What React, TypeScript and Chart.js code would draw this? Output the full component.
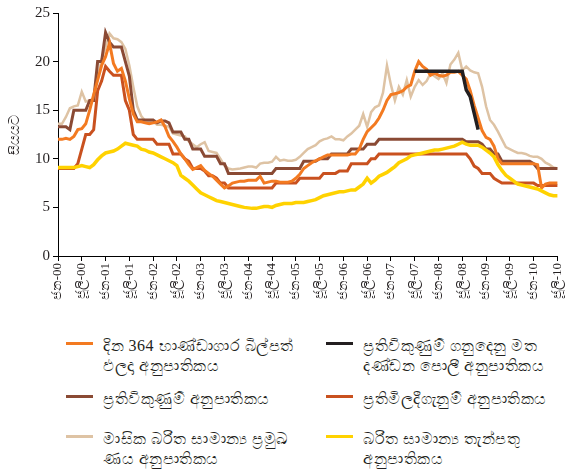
import React, { useEffect, useRef } from "react";
import { Chart, registerables } from "chart.js";

Chart.register(...registerables);

// ---------- data (monthly, Jan-2000 .. Jul-2010) ----------
const YEARS = ["00", "01", "02", "03", "04", "05", "06", "07", "08", "09", "10"];
const MONTHS = ["ජන", "පෙබ", "මාර්", "අප්‍රේ", "මැයි", "ජූනි", "ජූලි", "අගෝ", "සැප්", "ඔක්", "නොවැ", "දෙසැ"];
const MONTH_COUNT = 127;
const LABELS: string[] = YEARS.flatMap((y) => MONTHS.map((m) => `${m}-${y}`)).slice(0, MONTH_COUNT);

const Y_TICKS = [0, 5, 10, 15, 20, 25];

// 364-day T-bill yield
const TBILL = [
  12.0, 12.0, 12.1, 12.0, 12.3, 13.0, 13.1, 13.6, 15.0, 16.6, 18.1, 19.6,
  20.5, 21.9, 19.8, 19.0, 19.3, 18.0, 16.2, 14.6, 13.8, 13.8, 13.7, 13.6,
  13.7, 13.8, 14.0, 13.3, 12.3, 11.8, 11.2, 10.5, 10.0, 9.4, 8.9, 9.1,
  9.3, 8.8, 8.5, 8.2, 7.8, 7.4, 7.0, 7.2, 7.5, 7.6, 7.7, 7.7,
  7.8, 7.8, 7.8, 8.2, 7.5, 7.6, 7.7, 7.7, 7.6, 7.6, 7.6, 7.7,
  8.0, 8.4, 9.0, 9.3, 9.6, 9.8, 10.0, 10.2, 10.4, 10.4, 10.4, 10.4,
  10.4, 10.4, 10.5, 10.5, 11.0, 12.0, 12.8, 13.2, 13.6, 14.2, 15.0, 16.0,
  16.6, 16.7, 16.8, 17.0, 17.4, 17.6, 19.0, 20.0, 19.5, 19.2, 18.6, 18.8,
  18.6, 18.5, 18.6, 18.9, 18.9, 19.0, 18.6, 18.2, 17.0, 15.5, 14.2, 12.9,
  12.2, 12.0, 11.3, 10.0, 9.5, 9.5, 9.5, 9.5, 9.5, 9.5, 9.5, 9.5,
  9.5, 9.4, 7.0, 7.4, 7.5, 7.5, 7.5,
];

// Penal rate on reverse repo transactions
const PENAL = [
  null, null, null, null, null, null, null, null, null, null, null, null,
  null, null, null, null, null, null, null, null, null, null, null, null,
  null, null, null, null, null, null, null, null, null, null, null, null,
  null, null, null, null, null, null, null, null, null, null, null, null,
  null, null, null, null, null, null, null, null, null, null, null, null,
  null, null, null, null, null, null, null, null, null, null, null, null,
  null, null, null, null, null, null, null, null, null, null, null, null,
  null, null, null, null, null, null, 19.0, 19.0, 19.0, 19.0, 19.0, 19.0,
  19.0, 19.0, 19.0, 19.0, 19.0, 19.0, 19.0, 17.1, 16.4, 14.7, 13.0, null,
  null, null, null, null, null, null, null, null, null, null, null, null,
  null, null, null, null, null, null, null,
];

// Reverse repo rate
const REVERSE_REPO = [
  13.3, 13.3, 13.3, 13.0, 15.0, 15.0, 15.0, 15.0, 16.0, 16.0, 20.0, 20.0,
  23.0, 22.0, 21.5, 21.5, 21.5, 20.0, 18.5, 15.0, 14.0, 14.0, 14.0, 14.0,
  14.0, 13.7, 13.9, 13.9, 13.7, 12.75, 12.75, 12.75, 12.0, 12.0, 11.0, 11.0,
  11.0, 10.25, 10.25, 10.25, 10.25, 9.5, 9.5, 8.5, 8.5, 8.5, 8.5, 8.5,
  8.5, 8.5, 8.5, 8.5, 8.5, 8.5, 8.5, 9.0, 9.0, 9.0, 9.0, 9.0,
  9.0, 9.0, 9.75, 9.75, 9.75, 9.75, 10.0, 10.0, 10.0, 10.5, 10.5, 10.5,
  10.5, 10.5, 11.0, 11.0, 11.0, 11.0, 11.5, 11.5, 11.5, 12.0, 12.0, 12.0,
  12.0, 12.0, 12.0, 12.0, 12.0, 12.0, 12.0, 12.0, 12.0, 12.0, 12.0, 12.0,
  12.0, 12.0, 12.0, 12.0, 12.0, 12.0, 12.0, 11.75, 11.75, 11.75, 11.75, 11.5,
  11.0, 11.0, 10.5, 10.5, 9.75, 9.75, 9.75, 9.75, 9.75, 9.75, 9.75, 9.75,
  9.5, 9.0, 9.0, 9.0, 9.0, 9.0, 9.0,
];

// Repo rate
const REPO = [
  9.0, 9.0, 9.0, 9.0, 9.0, 9.5, 11.0, 12.5, 12.5, 13.0, 17.0, 18.0,
  19.5, 19.0, 18.6, 18.6, 18.6, 16.0, 15.0, 12.5, 12.0, 12.0, 12.0, 12.0,
  12.0, 11.5, 11.5, 11.5, 11.5, 10.5, 10.5, 10.5, 10.0, 9.75, 9.0, 9.0,
  9.0, 8.75, 8.25, 8.25, 8.0, 7.5, 7.5, 7.0, 7.0, 7.0, 7.0, 7.0,
  7.0, 7.0, 7.0, 7.0, 7.0, 7.0, 7.0, 7.5, 7.5, 7.5, 7.5, 7.5,
  7.5, 8.0, 8.0, 8.0, 8.0, 8.0, 8.0, 8.5, 8.5, 8.5, 8.5, 8.75,
  8.75, 8.75, 9.5, 9.5, 9.5, 9.5, 9.5, 10.0, 10.0, 10.5, 10.5, 10.5,
  10.5, 10.5, 10.5, 10.5, 10.5, 10.5, 10.5, 10.5, 10.5, 10.5, 10.5, 10.5,
  10.5, 10.5, 10.5, 10.5, 10.5, 10.5, 10.5, 10.5, 10.0, 9.25, 9.0, 8.5,
  8.5, 8.5, 8.0, 7.75, 7.5, 7.5, 7.5, 7.5, 7.5, 7.5, 7.5, 7.5,
  7.5, 7.25, 7.25, 7.25, 7.25, 7.25, 7.25,
];

// Average weighted prime lending rate (monthly)
const PRIME_LENDING = [
  13.6, 13.6, 14.3, 15.2, 15.4, 15.5, 16.9, 15.9, 16.0, 16.2, 18.3, 20.2,
  21.5, 22.9, 22.4, 22.3, 22.0, 21.3, 19.6, 17.4, 15.4, 14.4, 13.9, 13.8,
  13.8, 13.5, 13.5, 13.4, 13.3, 12.6, 12.5, 12.4, 12.3, 11.8, 11.5, 11.2,
  11.5, 11.7, 10.8, 10.7, 10.6, 10.0, 9.3, 9.0, 8.9, 8.95, 9.0, 9.1,
  9.2, 9.2, 9.1, 9.5, 9.6, 9.6, 9.7, 10.2, 9.8, 9.9, 9.8, 9.8,
  9.9, 10.2, 10.6, 11.0, 11.2, 11.4, 11.8, 12.0, 12.1, 12.3, 12.0, 12.0,
  11.9, 12.3, 12.6, 13.0, 13.4, 14.6, 13.3, 14.8, 15.3, 15.5, 16.8, 19.6,
  17.6, 16.0, 17.4, 16.6, 18.1, 16.4, 17.4, 18.1, 17.6, 18.0, 18.8, 18.5,
  18.2, 18.8, 17.8, 19.7, 20.2, 20.9, 19.1, 19.5, 19.1, 18.9, 18.8, 17.4,
  15.4, 14.0, 13.5, 12.8, 12.0, 11.2, 11.0, 10.8, 10.6, 10.6, 10.5, 10.3,
  10.2, 10.2, 10.0, 9.6, 9.4, 9.1, 9.0,
];

// Average weighted deposit rate
const DEPOSIT = [
  9.1, 9.1, 9.1, 9.1, 9.1, 9.2, 9.3, 9.2, 9.1, 9.4, 9.9, 10.3,
  10.6, 10.7, 10.8, 11.0, 11.3, 11.6, 11.5, 11.4, 11.3, 11.0, 10.9, 10.7,
  10.6, 10.4, 10.2, 10.0, 9.8, 9.6, 9.3, 8.3, 8.0, 7.7, 7.3, 6.9,
  6.5, 6.3, 6.1, 5.9, 5.7, 5.6, 5.5, 5.4, 5.3, 5.2, 5.1, 5.0,
  4.95, 4.9, 4.9, 5.0, 5.1, 5.1, 5.0, 5.2, 5.3, 5.4, 5.4, 5.4,
  5.5, 5.5, 5.5, 5.6, 5.7, 5.8, 6.0, 6.2, 6.3, 6.4, 6.5, 6.6,
  6.6, 6.7, 6.8, 6.8, 7.1, 7.4, 8.0, 7.5, 7.8, 8.2, 8.4, 8.6,
  8.9, 9.2, 9.6, 9.8, 10.0, 10.3, 10.4, 10.5, 10.6, 10.7, 10.8, 10.9,
  10.9, 11.0, 11.1, 11.2, 11.3, 11.5, 11.7, 11.5, 11.4, 11.4, 11.4, 11.2,
  10.9, 10.6, 10.2, 9.4, 8.8, 8.3, 8.0, 7.7, 7.4, 7.3, 7.2, 7.1,
  7.0, 6.9, 6.7, 6.5, 6.3, 6.2, 6.2,
];

const SERIES_NAMES = {
  tbill: ["දින 364 භාණ්ඩාගාර බිල්පත්", "ඵලදා අනුපාතිකය"],
  penal: ["ප්‍රතිවිකුණුම් ගනුදෙනු මත", "දණ්ඩන පොලී අනුපාතිකය"],
  reverseRepo: ["ප්‍රතිවිකුණුම් අනුපාතිකය"],
  repo: ["ප්‍රතිමිලදීගැනුම් අනුපාතිකය"],
  prime: ["මාසික බරිත සාමාන්‍ය ප්‍රමුඛ", "ණය අනුපාතිකය"],
  deposit: ["බරිත සාමාන්‍ය තැන්පතු", "අනුපාතිකය"],
};
const Y_TITLE = "සියයට";

const COLORS = {
  tbill: "#F37A21",
  penal: "#231F20",
  reverseRepo: "#8A4A34",
  repo: "#C9511F",
  prime: "#DEC3A4",
  deposit: "#FFD200",
};

const SERIF = "'Liberation Serif', 'Times New Roman', serif";
const TEXT = "#231F20";

function LegendItem({ color, lines, left, top }: { color: string; lines: string[]; left: number; top: number }) {
  return (
    <div style={{ position: "absolute", left, top, display: "flex", alignItems: "flex-start" }}>
      <div style={{ width: 27, height: 3, background: color, marginTop: 6, marginRight: 10 }} />
      <div
        style={{
          fontSize: 16,
          lineHeight: "20px",
          letterSpacing: "0.5px",
          color: TEXT,
          whiteSpace: "nowrap",
          fontFamily: SERIF,
        }}
      >
        {lines.map((l, i) => (
          <div key={i}>{l}</div>
        ))}
      </div>
    </div>
  );
}

export default function App() {
  const ref = useRef<HTMLCanvasElement | null>(null);

  useEffect(() => {
    if (!ref.current) return;
    const mk = (label: string, data: (number | null)[], color: string, width: number, order: number) => ({
      label,
      data,
      borderColor: color,
      backgroundColor: color,
      borderWidth: width,
      pointRadius: 0,
      tension: 0,
      spanGaps: false,
      order,
      borderJoinStyle: "miter" as const,
    });
    const chart = new Chart(ref.current, {
      type: "line",
      data: {
        labels: LABELS,
        datasets: [
          mk(SERIES_NAMES.prime.join(" "), PRIME_LENDING, COLORS.prime, 2.5, 6),
          mk(SERIES_NAMES.reverseRepo.join(" "), REVERSE_REPO, COLORS.reverseRepo, 3, 5),
          mk(SERIES_NAMES.repo.join(" "), REPO, COLORS.repo, 3, 4),
          mk(SERIES_NAMES.tbill.join(" "), TBILL, COLORS.tbill, 3, 3),
          mk(SERIES_NAMES.deposit.join(" "), DEPOSIT, COLORS.deposit, 3.5, 2),
          mk(SERIES_NAMES.penal.join(" "), PENAL, COLORS.penal, 3.5, 1),
        ],
      },
      options: {
        responsive: false,
        animation: false,
        layout: { padding: { top: 13, right: 10, bottom: 0, left: 0 } },
        plugins: { legend: { display: false }, tooltip: { enabled: false } },
        scales: {
          x: {
            type: "category",
            offset: false,
            border: { display: true, color: "#000", width: 1 },
            grid: {
              display: true,
              drawOnChartArea: false,
              drawTicks: true,
              tickLength: 5,
              color: (ctx: any) => (ctx.index % 6 === 0 ? "#000" : "rgba(0,0,0,0)"),
            },
            ticks: {
              autoSkip: false,
              minRotation: 90,
              maxRotation: 90,
              padding: 2,
              color: TEXT,
              font: { family: SERIF, size: 13 },
              callback: (_v: any, i: number) => (i % 6 === 0 ? LABELS[i] : ""),
            },
            afterFit: (s: any) => {
              s.height = 74;
            },
          },
          y: {
            min: 0,
            max: 25,
            border: { display: true, color: "#000", width: 1 },
            grid: { display: true, drawOnChartArea: false, drawTicks: true, tickLength: 5, color: "#000" },
            afterBuildTicks: (s: any) => {
              s.ticks = Y_TICKS.map((v) => ({ value: v }));
            },
            ticks: {
              color: TEXT,
              padding: 3,
              font: { family: SERIF, size: 15 },
            },
            title: {
              display: true,
              text: Y_TITLE,
              color: TEXT,
              font: { family: SERIF, size: 14 },
              padding: { top: 7, bottom: 0 },
            },
            afterFit: (s: any) => {
              s.width = 58;
            },
          },
        },
      },
    });
    return () => chart.destroy();
  }, []);

  return (
    <div style={{ position: "absolute", left: 0, top: 0, width: 575, height: 470, background: "#fff", overflow: "hidden" }}>
      <canvas ref={ref} width={575} height={330} style={{ display: "block" }} />
      <LegendItem color={COLORS.tbill} lines={SERIES_NAMES.tbill} left={66} top={336} />
      <LegendItem color={COLORS.penal} lines={SERIES_NAMES.penal} left={326} top={336} />
      <LegendItem color={COLORS.reverseRepo} lines={SERIES_NAMES.reverseRepo} left={66} top={389} />
      <LegendItem color={COLORS.repo} lines={SERIES_NAMES.repo} left={326} top={389} />
      <LegendItem color={COLORS.prime} lines={SERIES_NAMES.prime} left={66} top={429} />
      <LegendItem color={COLORS.deposit} lines={SERIES_NAMES.deposit} left={326} top={429} />
    </div>
  );
}
